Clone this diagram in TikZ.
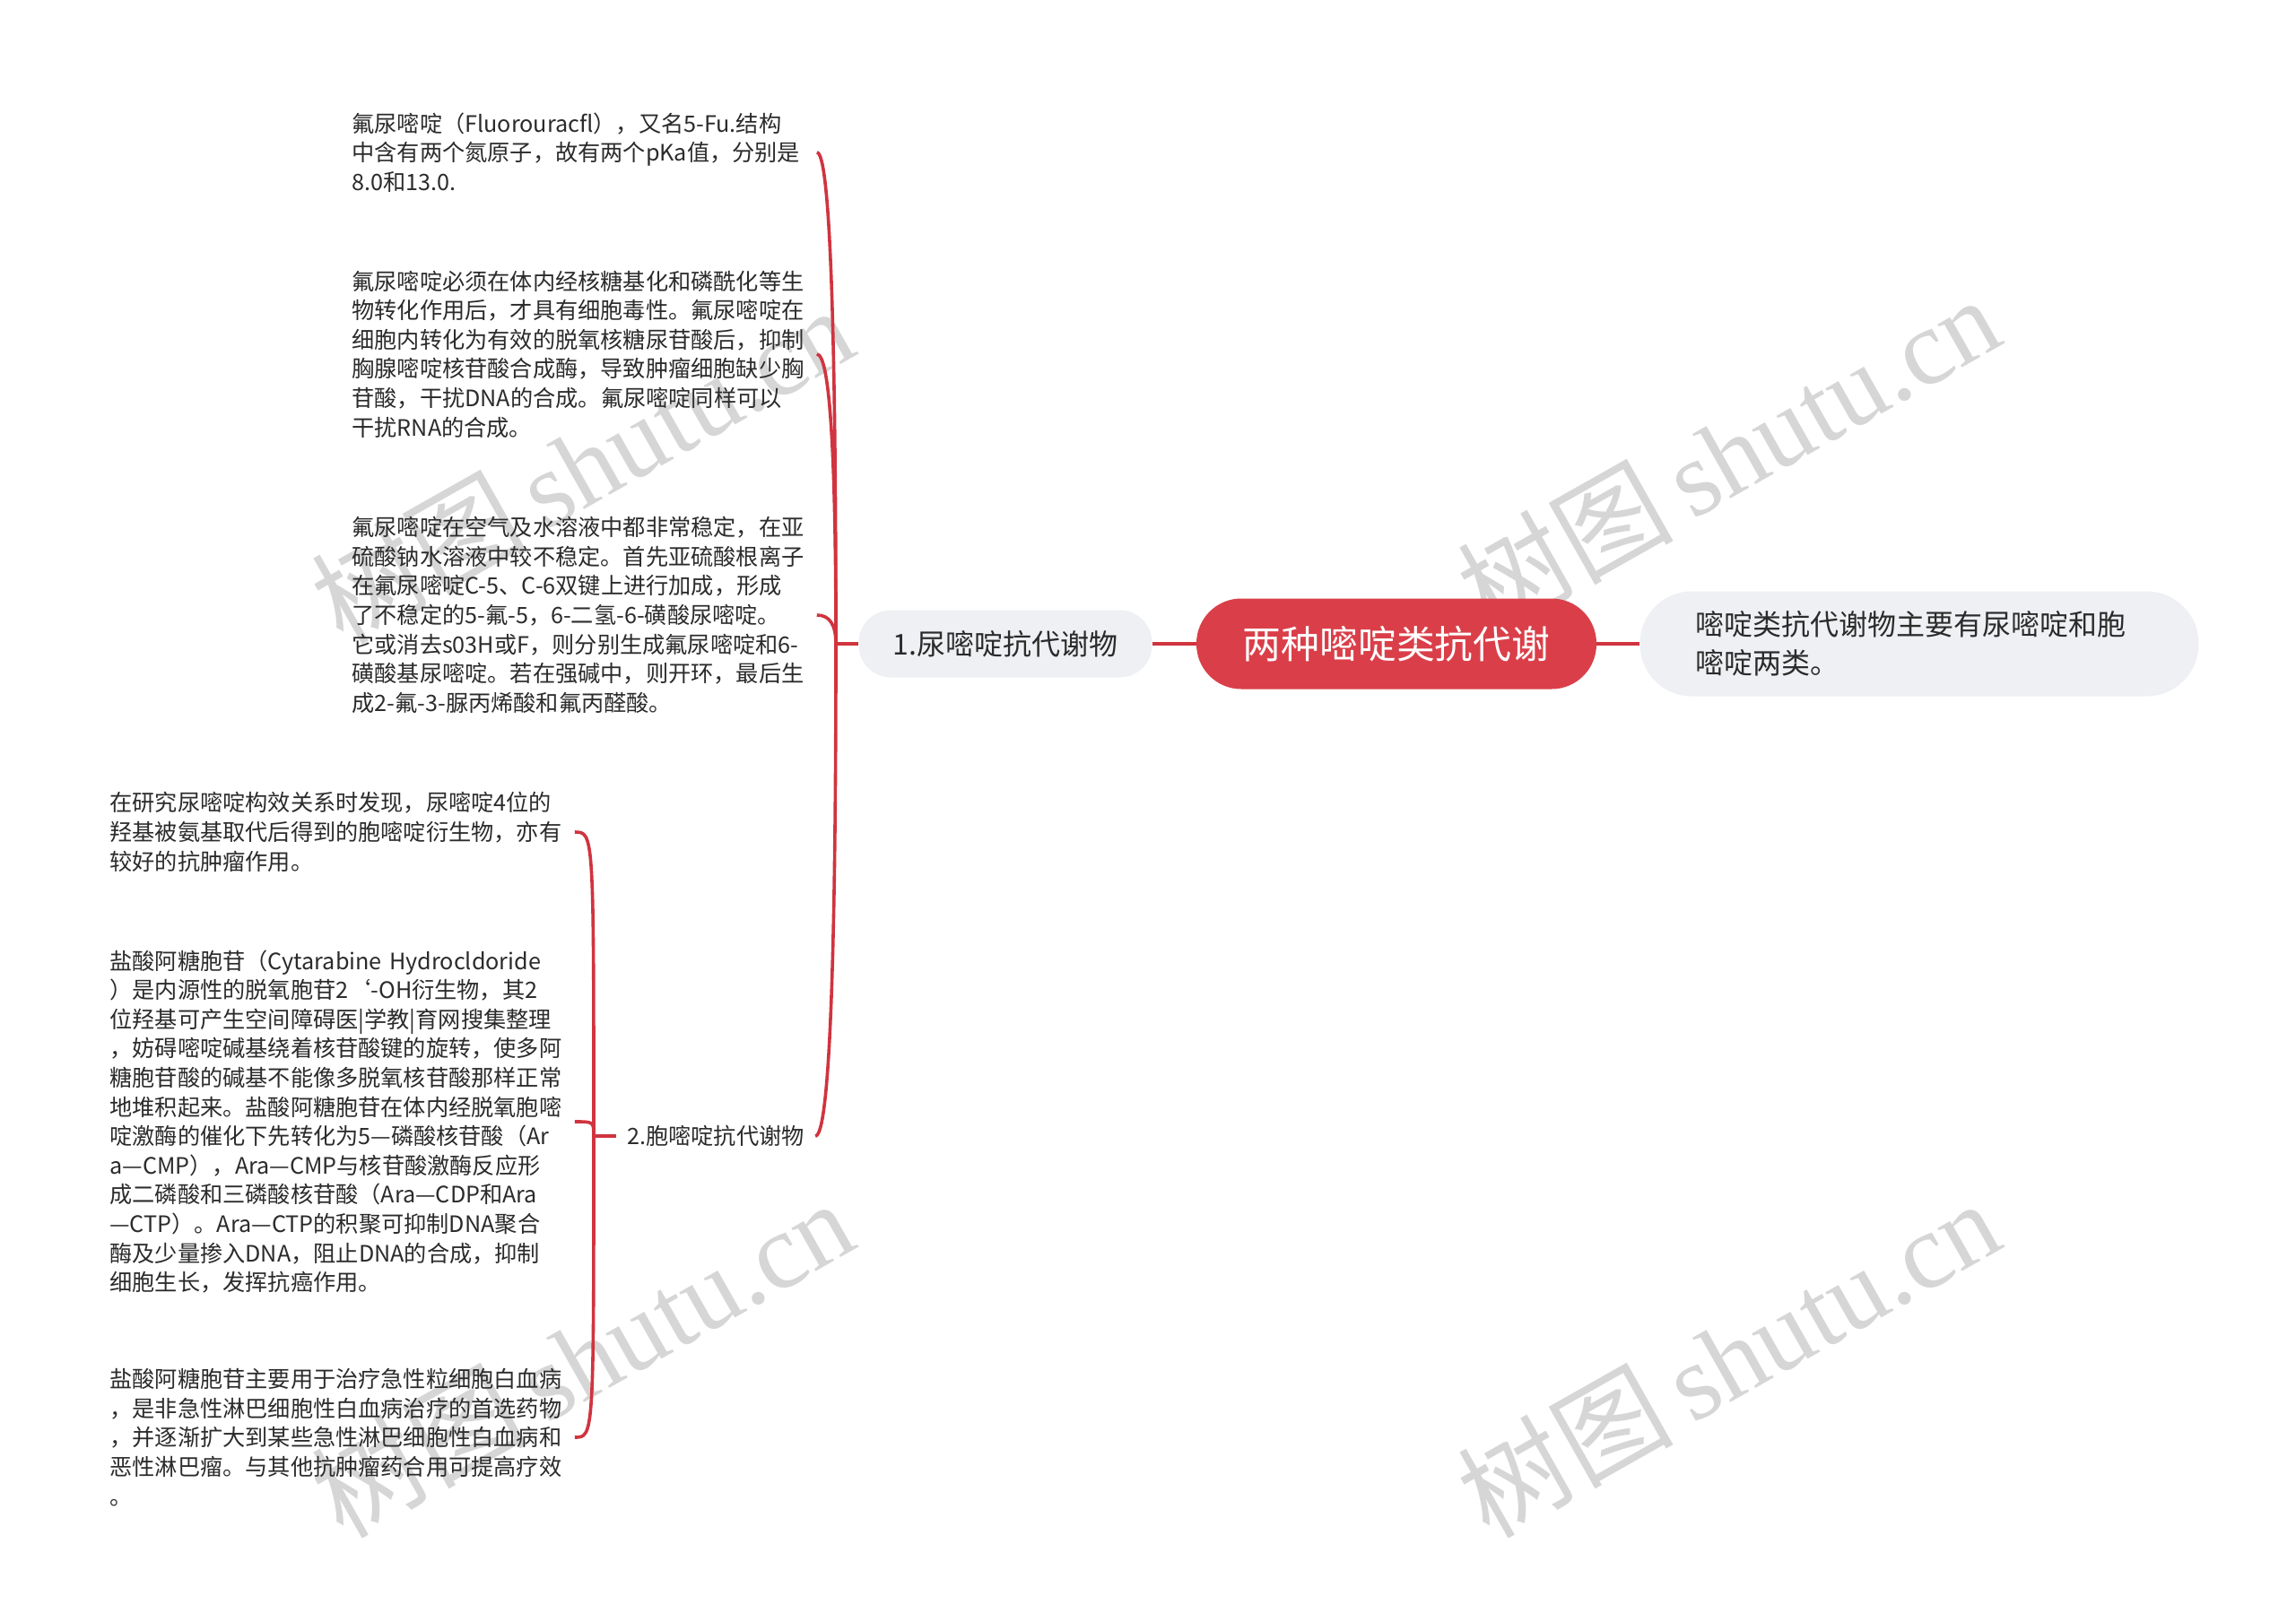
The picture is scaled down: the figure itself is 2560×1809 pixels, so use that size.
\documentclass[tikz,border=0pt]{standalone}
\usepackage{fontspec}
\setmainfont{Noto Sans CJK SC}
\newfontfamily\wmfont{Liberation Serif}
\usetikzlibrary{calc}
\definecolor{brred}{HTML}{D0343F}
\definecolor{cenred}{HTML}{DA3F49}
\definecolor{nodegray}{HTML}{EEF0F3}
\definecolor{txt}{HTML}{2B2B2B}
\definecolor{wm}{HTML}{D6D6D6}
\begin{document}
\begin{tikzpicture}[x=0.5pt,y=-0.5pt,
  leaf/.style={anchor=west,align=left,text width=257pt,inner xsep=2pt,inner ysep=0pt,
    font=\fontsize{12.6}{16.3}\selectfont,text=txt},
  pill/.style={fill=nodegray,draw=none,text=txt,inner sep=0pt},
  conn/.style={draw=brred,line width=1.8pt},
  wmark/.style={text=wm,rotate=29.5,font=\fontsize{60}{60}\selectfont,inner sep=0pt}]
\useasboundingbox[fill=white] (0,0) rectangle (2560,1809);

% watermarks
\foreach \i/\x/\y in {1/649/518,2/1927/506,3/649/1514,4/1927/1514}
  \node[wmark] (wm\i) at (\x,\y) {树图\,{\wmfont shutu.cn}};

% main nodes
\node[fill=cenred,rounded corners=25pt,minimum width=223pt,minimum height=50.5pt,
  text=white,font=\fontsize{21.4}{26}\selectfont,inner sep=0pt] (root) at (1557,718) {两种嘧啶类抗代谢};
\node[pill,rounded corners=18pt,minimum width=163.5pt,minimum height=37.5pt,
  font=\fontsize{16}{20}\selectfont] (n1) at (1121,718) {1.尿嘧啶抗代谢物};
\node[pill,rounded corners=29pt,minimum width=311.5pt,minimum height=58.5pt,
  align=left,text width=250pt,font=\fontsize{16}{21.3}\selectfont] (r1) at (2140,718)
  {嘧啶类抗代谢物主要有尿嘧啶和胞\\嘧啶两类。};
\node[inner xsep=6pt,inner ysep=2pt,font=\fontsize{12.6}{16}\selectfont,text=txt] (n2) at (798,1267) {2.胞嘧啶抗代谢物};

% leaves of 1
\node[leaf] (a1) at (388,170) {氟尿嘧啶（Fluorouracfl），又名5-Fu.结构\\中含有两个氮原子，故有两个pKa值，分别是\\8.0和13.0.};
\node[leaf] (a2) at (388,395) {氟尿嘧啶必须在体内经核糖基化和磷酰化等生\\物转化作用后，才具有细胞毒性。氟尿嘧啶在\\细胞内转化为有效的脱氧核糖尿苷酸后，抑制\\胸腺嘧啶核苷酸合成酶，导致肿瘤细胞缺少胸\\苷酸，干扰DNA的合成。氟尿嘧啶同样可以\\干扰RNA的合成。};
\node[leaf] (a3) at (388,686) {氟尿嘧啶在空气及水溶液中都非常稳定，在亚\\硫酸钠水溶液中较不稳定。首先亚硫酸根离子\\在氟尿嘧啶C-5、C-6双键上进行加成，形成\\了不稳定的5-氟-5，6-二氢-6-磺酸尿嘧啶。\\它或消去s03H或F，则分别生成氟尿嘧啶和6-\\磺酸基尿嘧啶。若在强碱中，则开环，最后生\\成2-氟-3-脲丙烯酸和氟丙醛酸。};

% leaves of 2
\node[leaf] (b1) at (118,928) {在研究尿嘧啶构效关系时发现，尿嘧啶4位的\\羟基被氨基取代后得到的胞嘧啶衍生物，亦有\\较好的抗肿瘤作用。};
\node[leaf] (b2) at (118,1251) {盐酸阿糖胞苷（Cytarabine Hydrocldoride\\）是内源性的脱氧胞苷2‘-OH衍生物，其2\\位羟基可产生空间障碍医|学教|育网搜集整理\\，妨碍嘧啶碱基绕着核苷酸键的旋转，使多阿\\糖胞苷酸的碱基不能像多脱氧核苷酸那样正常\\地堆积起来。盐酸阿糖胞苷在体内经脱氧胞嘧\\啶激酶的催化下先转化为5—磷酸核苷酸（Ar\\a—CMP），Ara—CMP与核苷酸激酶反应形\\成二磷酸和三磷酸核苷酸（Ara—CDP和Ara\\—CTP）。Ara—CTP的积聚可抑制DNA聚合\\酶及少量掺入DNA，阻止DNA的合成，抑制\\细胞生长，发挥抗癌作用。};
\node[leaf] (b3) at (118,1603) {盐酸阿糖胞苷主要用于治疗急性粒细胞白血病\\，是非急性淋巴细胞性白血病治疗的首选药物\\，并逐渐扩大到某些急性淋巴细胞性白血病和\\恶性淋巴瘤。与其他抗肿瘤药合用可提高疗效\\。};

% connectors
\coordinate (j1) at (932,718);
\coordinate (j2) at (662,1267);
\draw[conn] (root.west) -- (n1.east);
\draw[conn] (root.east) -- (r1.west);
\draw[conn] (n1.west) -- (j1);
\foreach \c in {a1,a2,a3,n2}
  \draw[conn] (j1) .. controls ($(j1)!0.667!(j1 |- \c.east)$) and ($(\c.east)!0.667!(j1 |- \c.east)$) .. (\c.east);
\draw[conn] (n2.west) -- (j2);
\foreach \c in {b1,b2,b3}
  \draw[conn] (j2) .. controls (j2 |- \c.east) .. (\c.east);
\end{tikzpicture}
\end{document}
